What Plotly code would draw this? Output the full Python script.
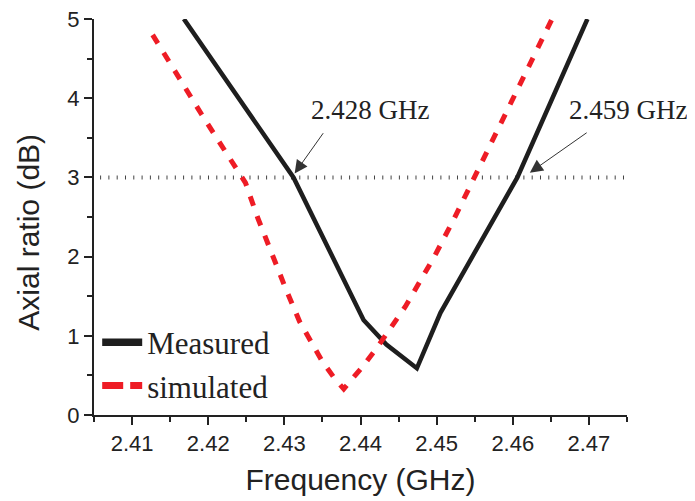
import plotly.graph_objects as go

# Measured axial ratio (GHz, dB)
meas_freq = [2.4168, 2.4312, 2.4404, 2.4434, 2.4474, 2.4505, 2.4606, 2.4698]
meas_ar = [5.0, 3.0, 1.2, 0.89, 0.59, 1.29, 3.0, 5.0]

# Simulated axial ratio (GHz, dB)
sim_freq = [2.4127, 2.4160, 2.4191, 2.4223, 2.4249, 2.4265, 2.4282, 2.4302, 2.4320,
            2.4349, 2.4366, 2.4378, 2.4401, 2.4421, 2.4459, 2.4497, 2.4523, 2.4554,
            2.4579, 2.4603, 2.4627, 2.4651]
sim_ar = [4.80, 4.28, 3.80, 3.32, 2.93, 2.49, 2.07, 1.59, 1.18,
          0.69, 0.46, 0.33, 0.59, 0.84, 1.37, 2.00, 2.48, 3.09,
          3.58, 4.06, 4.52, 4.99]

# 3 dB reference line
ref_freq = [2.4058, 2.475]
ref_ar = [3, 3]

# Annotations: label, arrow tip, arrow tail
ann_labels = ["2.428 GHz", "2.459 GHz"]
ann_tip_x = [2.43135, 2.46224]
ann_tip_y = [3.05, 3.06]
ann_tail_x = [2.43524, 2.4699]
ann_tail_y = [3.577, 3.577]

x_tickvals = [2.41, 2.42, 2.43, 2.44, 2.45, 2.46, 2.47]
y_tickvals = [0, 1, 2, 3, 4, 5]

BLACK = "#1e1e1e"
RED = "#ee1c25"
SANS = "Liberation Sans, Arial, sans-serif"
SERIF = "Liberation Serif, Times New Roman, serif"

OFF = 8  # page body margin
L, R, T, B = 86, 68.3, 11, 86
W, H = 687, 493
PW, PH = W - L - R, H - T - B


def px_x(px):
    return (px - OFF - L) / PW


def px_y(py):
    return (H - B - (py - OFF)) / PH


fig = go.Figure()

fig.add_trace(go.Scatter(x=ref_freq, y=ref_ar, mode="lines", showlegend=False,
                         line=dict(color="#444444", width=4, dash="1px,7.3px"),
                         hoverinfo="skip"))
fig.add_trace(go.Scatter(x=meas_freq, y=meas_ar, mode="lines", showlegend=False,
                         line=dict(color=BLACK, width=4.5)))
fig.add_trace(go.Scatter(x=sim_freq, y=sim_ar, mode="lines", showlegend=False,
                         line=dict(color=RED, width=5, dash="10px,11px")))

# legend-only entries
fig.add_trace(go.Scatter(x=[None], y=[None], mode="lines", name="Measured",
                         line=dict(color=BLACK, width=7.7)))
fig.add_trace(go.Scatter(x=[None], y=[None], mode="lines", name="simulated",
                         line=dict(color=RED, width=7, dash="21px,7px")))

annotations = []
for lab, tx, ty, ax_, ay_ in zip(ann_labels, ann_tip_x, ann_tip_y, ann_tail_x, ann_tail_y):
    annotations.append(dict(x=tx, y=ty, xref="x", yref="y", ax=ax_, ay=ay_,
                            axref="x", ayref="y", text="", showarrow=True,
                            arrowhead=2, arrowsize=2.6, arrowwidth=1,
                            arrowcolor="#333333"))

annotations.append(dict(x=px_x(369.7), y=px_y(109.7), xref="paper", yref="paper",
                        text=ann_labels[0], showarrow=False, xanchor="center", yanchor="middle",
                        font=dict(family=SERIF, size=27, color="#222222")))
annotations.append(dict(x=px_x(627.5), y=px_y(109.7), xref="paper", yref="paper",
                        text=ann_labels[1], showarrow=False, xanchor="center", yanchor="middle",
                        font=dict(family=SERIF, size=27, color="#222222")))
annotations.append(dict(x=px_x(29), y=px_y(231.7), xref="paper", yref="paper",
                        text="Axial ratio (dB)", showarrow=False, textangle=-90,
                        xanchor="center", yanchor="middle",
                        font=dict(family=SANS, size=30, color="#222222")))

fig.update_layout(
    width=W, height=H,
    margin=dict(l=L, r=R, t=T, b=B, autoexpand=False),
    paper_bgcolor="white", plot_bgcolor="white",
    showlegend=True,
    legend=dict(x=0.006, y=0.251, xanchor="left", yanchor="top",
                font=dict(family=SERIF, size=31, color="#222222"),
                bgcolor="rgba(0,0,0,0)", itemwidth=40, tracegroupgap=0),
    annotations=annotations,
)

fig.update_xaxes(range=[2.405, 2.475], tickvals=x_tickvals, tickformat=".2f", automargin=False,
                 ticklabeloverflow="allow",
                 showgrid=False, zeroline=False, showline=True, linewidth=2, linecolor="#222222",
                 ticks="outside", ticklen=8, tickwidth=1.5, tickcolor="#222222",
                 minor=dict(dtick=0.005, tick0=2.405, ticks="outside", ticklen=5, tickwidth=1.5,
                            tickcolor="#222222", showgrid=False),
                 tickfont=dict(family=SANS, size=22, color="#222222"),
                 title=dict(text="Frequency (GHz)", font=dict(family=SANS, size=30, color="#222222"),
                            standoff=14))
fig.update_yaxes(range=[0, 5], tickvals=y_tickvals, automargin=False,
                 ticklabeloverflow="allow",
                 showgrid=False, zeroline=False, showline=True, linewidth=2, linecolor="#222222",
                 ticks="outside", ticklen=8, tickwidth=1.5, tickcolor="#222222",
                 minor=dict(dtick=0.5, tick0=0, ticks="outside", ticklen=5, tickwidth=1.5,
                            tickcolor="#222222", showgrid=False),
                 tickfont=dict(family=SANS, size=22, color="#222222"))

fig.write_html("out.html")
